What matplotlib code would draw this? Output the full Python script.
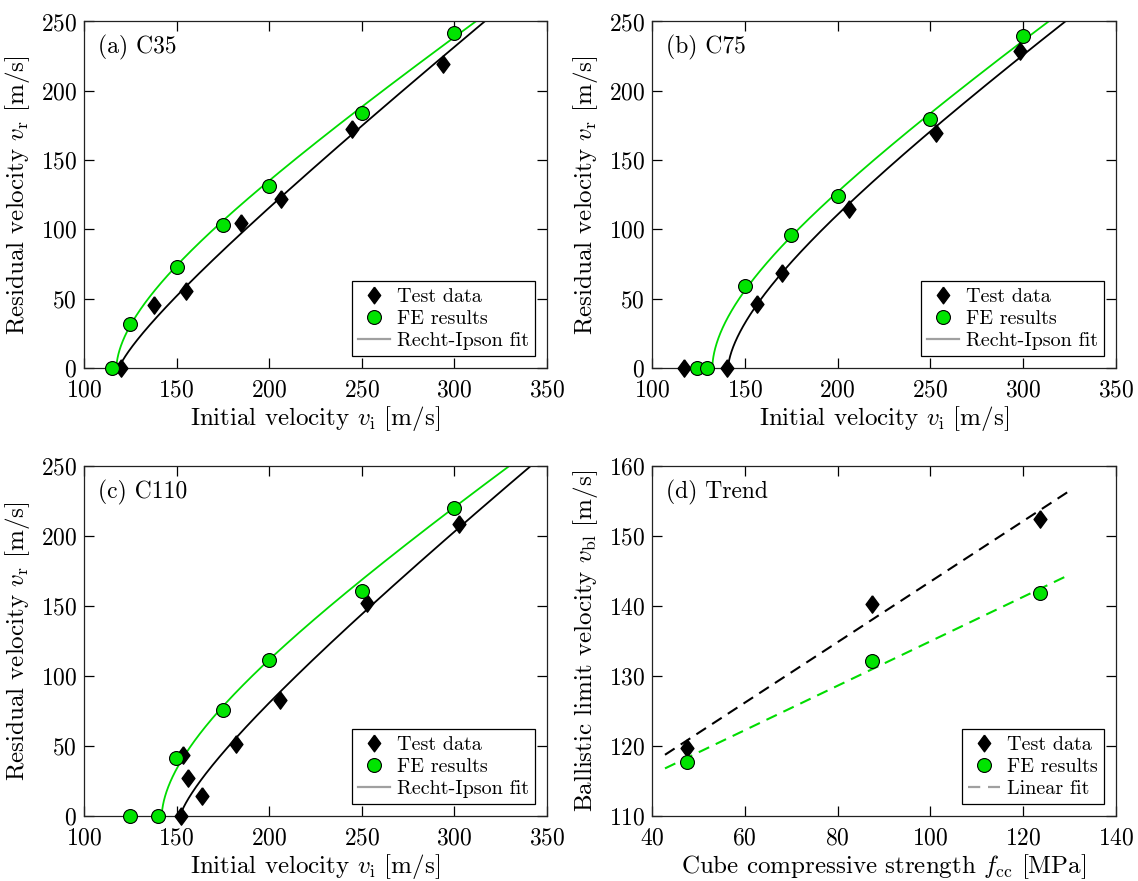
import numpy as np
import matplotlib
matplotlib.use("Agg")
import matplotlib.pyplot as plt
from matplotlib.lines import Line2D

plt.rcParams['font.family'] = 'serif'
plt.rcParams['font.serif'] = ['cmr10']
plt.rcParams['mathtext.fontset'] = 'cm'
plt.rcParams['axes.formatter.use_mathtext'] = True
plt.rcParams['axes.unicode_minus'] = False

# ---------------- data ----------------
# (a) C35
a_test_vi = [120, 137.7, 155.2, 184.8, 206.2, 244.9, 294.0]
a_test_vr = [0, 45.5, 55.5, 104.5, 122.0, 172.7, 219.6]
a_fe_vi = [115, 125, 150, 175, 200, 250, 300]
a_fe_vr = [0, 32.0, 73.0, 103.5, 131.5, 184.0, 241.5]
# Recht-Ipson fit parameters (vbl, a, p)
a_fit_test = (119.0, 1.045, 1.25)
a_fit_fe = (117.5, 0.90, 1.75)

# (b) C75
b_test_vi = [117.4, 140.4, 156.8, 170.1, 206.3, 253.2, 298.1]
b_test_vr = [0, 0, 45.9, 68.2, 114.8, 169.9, 228.5]
b_fe_vi = [124.5, 129.6, 150, 175, 200, 250, 300]
b_fe_vr = [0, 0, 59.3, 95.7, 124.4, 179.9, 239.7]
b_fit_test = (141.0, 0.94, 1.6)
b_fit_fe = (132.5, 0.91, 1.8)

# (c) C110
c_test_vi = [152.4, 153.6, 156.0, 163.5, 181.9, 205.7, 252.8, 302.7]
c_test_vr = [0, 43.8, 27.3, 14.4, 51.2, 82.6, 151.8, 208.8]
c_fe_vi = [125, 140, 149.5, 175, 200, 250, 300]
c_fe_vr = [0, 0, 41.7, 75.9, 111.3, 160.7, 220.0]
c_fit_test = (152.0, 1.02, 1.3)
c_fit_fe = (142.0, 0.88, 1.75)

# (d) Trend
d_fcc = [47.5, 87.4, 123.6]
d_test_vbl = [119.7, 140.3, 152.5]
d_fe_vbl = [117.7, 132.2, 141.8]
d_fit_range = (42.8, 130.0)

panel_titles = ['(a) C35', '(b) C75', '(c) C110', '(d) Trend']

# ---------------- style ----------------
GREEN_M = '#00e400'
GREEN_L = '#00dc00'
diamond = [(0, 1), (0.74, 0), (0, -1), (-0.74, 0), (0, 1)]

fig = plt.figure(figsize=(11.38, 8.81), dpi=100)
W, H = 1138.0, 881.0
def add_ax(l, r, t, b):
    return fig.add_axes([l / W, 1 - b / H, (r - l) / W, (b - t) / H])

ax_a = add_ax(84, 547, 21.5, 368)
ax_b = add_ax(652, 1116, 21.5, 368)
ax_c = add_ax(84, 547, 466, 816)
ax_d = add_ax(652, 1116, 466, 816)

TICK_FS = 17
LAB_FS = 18
LEG_FS = 14.5
TITLE_FS = 17

def style(ax):
    ax.tick_params(direction='in', top=True, right=True, length=7, width=0.9,
                   labelsize=TICK_FS)
    ax.tick_params(axis='x', pad=8)
    ax.tick_params(axis='y', pad=5)
    for s in ax.spines.values():
        s.set_linewidth(0.9)
        s.set_color('#222222')

def recht_ipson(params):
    vbl, a, p = params
    t = np.linspace(0, 1, 600)
    vi = vbl + (360 - vbl) * t ** 2
    vr = a * np.maximum(vi ** p - vbl ** p, 0) ** (1.0 / p)
    return vi, vr

def make_legend(ax, labels, dashed):
    ls = (0, (5.5, 3.5)) if dashed else '-'
    handles = [Line2D([], [], linestyle='none', marker=diamond, ms=12, color='black'),
               Line2D([], [], linestyle='none', marker='o', ms=10, mfc=GREEN_M, mec='black', mew=0.8),
               Line2D([], [], color='#a0a0a0', lw=1.6, ls=ls)]
    leg = ax.legend(handles, labels, loc='lower right', fontsize=LEG_FS, fancybox=False,
                    framealpha=1, edgecolor='black', borderaxespad=0.6, handlelength=1.6,
                    handletextpad=0.35, borderpad=0.3, labelspacing=0.2)
    leg.get_frame().set_linewidth(0.9)

def velocity_panel(ax, tvi, tvr, fvi, fvr, fit_t, fit_f, title):
    x, y = recht_ipson(fit_f)
    ax.plot(x, y, color=GREEN_L, lw=1.3, zorder=2)
    x, y = recht_ipson(fit_t)
    ax.plot(x, y, color='black', lw=1.3, zorder=2)
    ax.plot(tvi, tvr, linestyle='none', marker=diamond, ms=12.5, color='black',
            mec='black', clip_on=False, zorder=4)
    ax.plot(fvi, fvr, linestyle='none', marker='o', ms=10, mfc=GREEN_M,
            mec='black', mew=0.8, clip_on=False, zorder=5)
    ax.set_xlim(100, 350)
    ax.set_ylim(0, 250)
    ax.set_xticks([100, 150, 200, 250, 300, 350])
    ax.set_yticks([0, 50, 100, 150, 200, 250])
    ax.set_xlabel(r'Initial velocity $v_\mathrm{i}$ [m/s]', fontsize=LAB_FS, labelpad=2)
    ax.set_ylabel(r'Residual velocity $v_\mathrm{r}$ [m/s]', fontsize=LAB_FS, labelpad=6)
    ax.text(0.03, 0.925, title, transform=ax.transAxes, fontsize=TITLE_FS, va='center', ha='left')
    style(ax)
    make_legend(ax, ['Test data', 'FE results', 'Recht-Ipson fit'], False)

velocity_panel(ax_a, a_test_vi, a_test_vr, a_fe_vi, a_fe_vr, a_fit_test, a_fit_fe, panel_titles[0])
velocity_panel(ax_b, b_test_vi, b_test_vr, b_fe_vi, b_fe_vr, b_fit_test, b_fit_fe, panel_titles[1])
velocity_panel(ax_c, c_test_vi, c_test_vr, c_fe_vi, c_fe_vr, c_fit_test, c_fit_fe, panel_titles[2])

# (d)
ax = ax_d
xf = np.array(d_fit_range)
k1 = np.polyfit(d_fcc, d_test_vbl, 1)
k2 = np.polyfit(d_fcc, d_fe_vbl, 1)
ax.plot(xf, np.polyval(k1, xf), color='black', lw=1.5, ls=(0, (5.5, 3.5)), zorder=2)
ax.plot(xf, np.polyval(k2, xf), color=GREEN_L, lw=1.5, ls=(0, (5.5, 3.5)), zorder=2)
ax.plot(d_fcc, d_test_vbl, linestyle='none', marker=diamond, ms=12.5, color='black', zorder=4)
ax.plot(d_fcc, d_fe_vbl, linestyle='none', marker='o', ms=10, mfc=GREEN_M, mec='black', mew=0.8, zorder=5)
ax.set_xlim(40, 140)
ax.set_ylim(110, 160)
ax.set_xticks([40, 60, 80, 100, 120, 140])
ax.set_yticks([110, 120, 130, 140, 150, 160])
ax.set_xlabel(r'Cube compressive strength $f_\mathrm{cc}$ [MPa]', fontsize=LAB_FS, labelpad=2)
ax.set_ylabel(r'Ballistic limit velocity $v_\mathrm{bl}$ [m/s]', fontsize=LAB_FS, labelpad=6)
ax.text(0.03, 0.925, panel_titles[3], transform=ax.transAxes, fontsize=TITLE_FS, va='center', ha='left')
style(ax)
make_legend(ax, ['Test data', 'FE results', 'Linear fit'], True)

fig.savefig('out.png', dpi=100)
